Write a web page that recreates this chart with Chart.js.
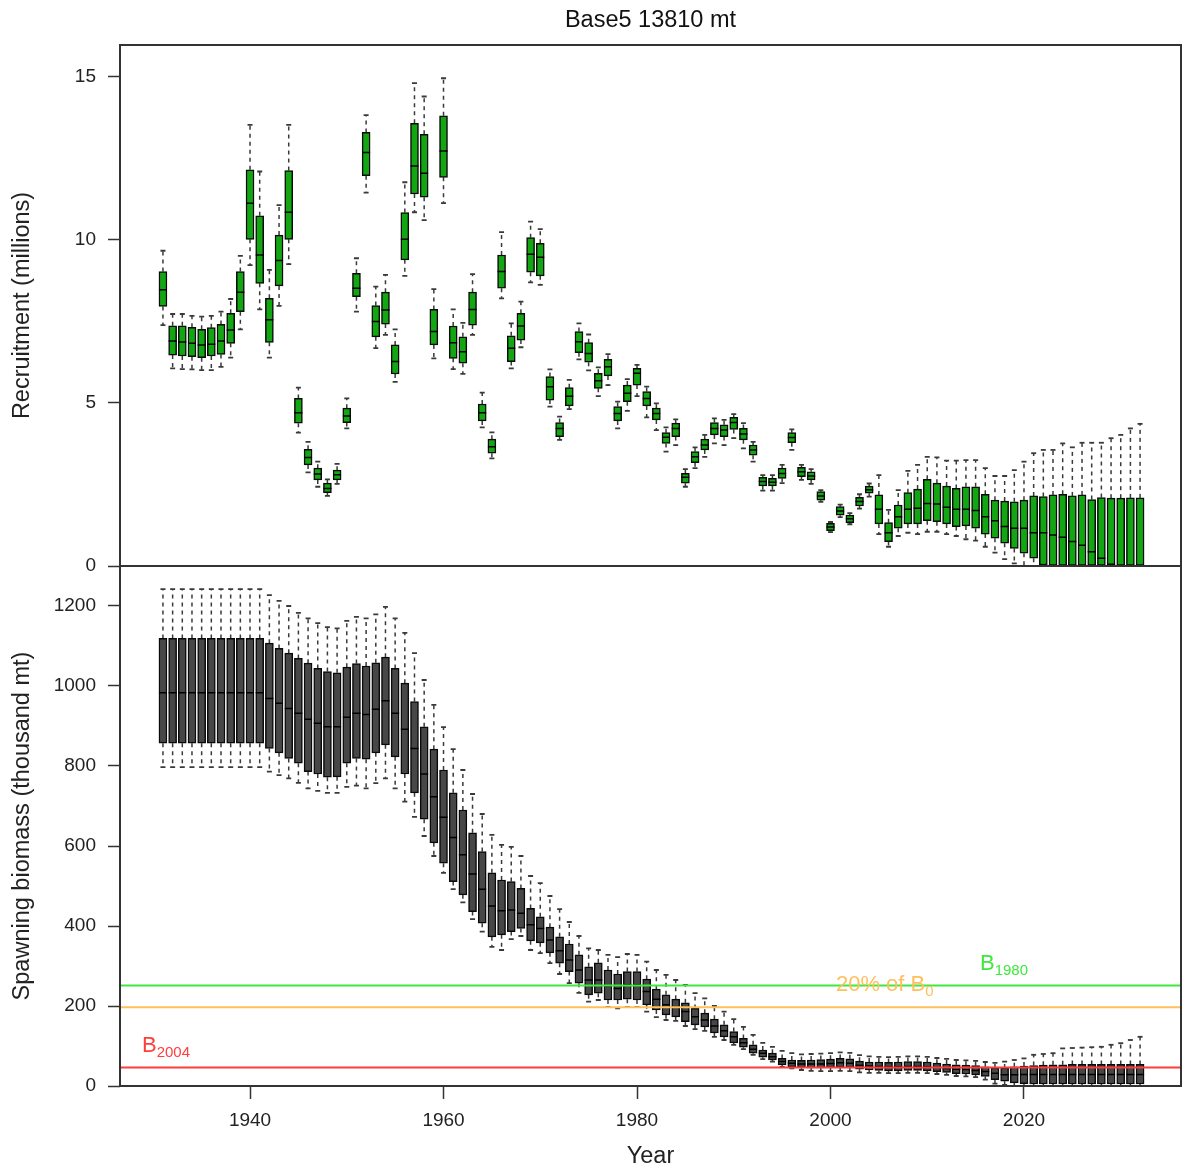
<!DOCTYPE html>
<html>
<head>
<meta charset="utf-8">
<script src="https://cdn.jsdelivr.net/npm/chart.js@4.4.1/dist/chart.umd.min.js"></script>
<style>
    html, body { margin: 0; padding: 0; background: #fff; }
    #wrap { position: relative; width: 1184px; height: 1171px; overflow: hidden; }
    canvas { position: absolute; left: 0; }
    #top { top: 0; }
    #bottom { top: 560px; }
</style>
</head>
<body>
<div id="wrap">
    <canvas id="top" width="1184" height="584"></canvas>
    <canvas id="bottom" width="1184" height="611"></canvas>
</div>
<script>
// years 1931..2032
const years = Array.from({ length: 102 }, (_, i) => 1931 + i);

// recruitment (millions): whisker low, q1, median, q3, whisker high
const recLo = [7.39, 6.06, 6.04, 6.03, 6.01, 6.01, 6.11, 6.39, 7.26, 9.23, 7.87, 6.39, 7.98, 9.26, 4.09, 2.87, 2.43, 2.15, 2.52, 4.22,
    7.80, 11.45, 6.68, 7.09, 5.65, 8.90, 10.85, 10.61, 6.37, 11.13, 6.04, 5.89, 7.09, 4.25, 3.30, 8.21, 6.06, 6.71, 8.70, 8.62,
    4.89, 3.87, 4.81, 6.34, 6.00, 5.21, 5.55, 4.22, 4.76, 5.21, 4.56, 4.17, 3.51, 3.71, 2.43, 3.00, 3.35, 3.76, 3.71, 3.92,
    3.61, 3.20, 2.31, 2.31, 2.54, 3.56, 2.64, 2.52, 1.97, 1.04, 1.50, 1.28, 1.76, 2.13, 0.98, 0.59, 0.92, 1.02, 0.98, 1.05,
    1.05, 0.98, 0.92, 0.82, 0.78, 0.59, 0.41, 0.21, 0.08, 0, 0, 0, 0, 0, 0, 0, 0, 0, 0, 0, 0, 0];
const recQ1 = [7.96, 6.47, 6.44, 6.42, 6.39, 6.44, 6.49, 6.83, 7.80, 10.02, 8.67, 6.86, 8.59, 10.02, 4.38, 3.10, 2.64, 2.25, 2.64, 4.40,
    8.26, 11.97, 7.03, 7.42, 5.89, 9.39, 11.41, 11.31, 6.78, 11.92, 6.37, 6.22, 7.39, 4.45, 3.46, 8.52, 6.27, 6.93, 9.01, 8.90,
    5.09, 3.97, 4.91, 6.54, 6.25, 5.45, 5.83, 4.45, 5.04, 5.55, 4.91, 4.48, 3.76, 3.97, 2.54, 3.17, 3.56, 4.02, 3.97, 4.19,
    3.87, 3.40, 2.46, 2.46, 2.69, 3.78, 2.74, 2.64, 2.02, 1.08, 1.56, 1.33, 1.84, 2.23, 1.29, 0.75, 1.16, 1.29, 1.29, 1.39,
    1.36, 1.29, 1.21, 1.23, 1.16, 0.98, 0.85, 0.70, 0.54, 0.39, 0.24, 0.03, 0, 0, 0, 0, 0, 0, 0, 0, 0, 0];
const recMed = [8.47, 6.90, 6.87, 6.83, 6.78, 6.80, 6.90, 7.24, 8.40, 11.13, 9.54, 7.55, 9.37, 10.85, 4.70, 3.33, 2.82, 2.38, 2.80, 4.60,
    8.52, 12.68, 7.50, 7.85, 6.27, 10.02, 12.27, 12.05, 7.19, 12.73, 6.85, 6.57, 7.87, 4.70, 3.66, 9.03, 6.68, 7.36, 9.56, 9.47,
    5.50, 4.22, 5.21, 6.88, 6.52, 5.68, 6.11, 4.68, 5.30, 5.91, 5.14, 4.68, 3.95, 4.22, 2.72, 3.35, 3.71, 4.22, 4.17, 4.40,
    4.05, 3.56, 2.59, 2.57, 2.84, 3.94, 2.89, 2.76, 2.15, 1.20, 1.69, 1.45, 1.98, 2.34, 1.74, 1.02, 1.51, 1.74, 1.77, 1.92,
    1.90, 1.80, 1.74, 1.74, 1.70, 1.51, 1.39, 1.21, 1.16, 1.16, 1.02, 1.02, 0.95, 0.88, 0.75, 0.64, 0.44, 0.24, 0.05, 0, 0, 0];
const recQ3 = [9.03, 7.37, 7.37, 7.32, 7.26, 7.31, 7.41, 7.75, 9.03, 12.15, 10.74, 8.21, 10.15, 12.13, 5.14, 3.58, 3.00, 2.54, 2.94, 4.84,
    8.98, 13.30, 7.99, 8.40, 6.78, 10.84, 13.58, 13.24, 7.87, 13.81, 7.36, 7.03, 8.40, 4.97, 3.89, 9.54, 7.06, 7.75, 10.07, 9.90,
    5.81, 4.40, 5.47, 7.19, 6.85, 5.91, 6.34, 4.89, 5.55, 6.06, 5.35, 4.84, 4.09, 4.38, 2.84, 3.51, 3.89, 4.40, 4.33, 4.56,
    4.22, 3.71, 2.72, 2.69, 3.00, 4.09, 3.03, 2.89, 2.28, 1.31, 1.82, 1.56, 2.11, 2.45, 2.18, 1.33, 1.87, 2.25, 2.36, 2.66,
    2.54, 2.45, 2.38, 2.43, 2.43, 2.20, 2.02, 1.99, 1.97, 2.02, 2.15, 2.13, 2.18, 2.20, 2.15, 2.18, 2.04, 2.10, 2.08, 2.08, 2.09, 2.09];
const recHi = [9.67, 7.73, 7.73, 7.67, 7.65, 7.67, 7.80, 8.19, 9.51, 13.53, 12.10, 9.08, 11.07, 13.53, 5.47, 3.81, 3.20, 2.66, 3.13, 5.14,
    9.44, 13.83, 8.57, 8.93, 7.26, 11.77, 14.81, 14.40, 8.49, 14.96, 7.87, 7.46, 8.95, 5.32, 4.10, 10.24, 7.44, 8.11, 10.56, 10.33,
    6.03, 4.58, 5.71, 7.44, 7.10, 6.09, 6.50, 5.04, 5.73, 6.17, 5.50, 4.99, 4.25, 4.50, 2.97, 3.64, 4.02, 4.53, 4.48, 4.66,
    4.38, 3.81, 2.79, 2.79, 3.10, 4.19, 3.10, 2.97, 2.33, 1.35, 1.88, 1.62, 2.20, 2.53, 2.79, 1.72, 2.33, 2.92, 3.10, 3.35,
    3.33, 3.23, 3.23, 3.25, 3.25, 3.00, 2.76, 2.76, 2.94, 3.20, 3.46, 3.56, 3.56, 3.76, 3.64, 3.78, 3.78, 3.78, 3.92, 4.02, 4.22, 4.36];

// spawning biomass (thousand mt): whisker low, q1, median, q3, whisker high
const ssbLo = [797, 797, 797, 797, 797, 797, 797, 797, 797, 797, 797, 786, 777, 769, 758, 744, 738, 733, 733, 748,
    751, 744, 757, 769, 744, 711, 673, 625, 575, 533, 492, 459, 417, 386, 348, 340, 367, 375, 340, 332,
    307, 280, 257, 233, 211, 215, 198, 194, 198, 198, 186, 172, 165, 163, 150, 142, 138, 123, 115, 103,
    92, 78, 67, 61, 48, 44, 40, 38, 37, 37, 38, 37, 34, 33, 33, 32, 32, 33, 33, 32,
    30, 28, 25, 24, 22, 16, 6, 3, 0, 0, 0, 0, 0, 0, 0, 0, 0, 0, 0, 0, 0, 0];
const ssbQ1 = [857, 857, 857, 857, 857, 857, 857, 857, 857, 857, 857, 844, 833, 819, 807, 786, 780, 772, 773, 807,
    819, 817, 833, 853, 823, 780, 733, 667, 608, 557, 511, 478, 436, 407, 373, 378, 386, 394, 363, 358,
    333, 307, 286, 257, 228, 232, 215, 215, 217, 215, 203, 190, 178, 173, 161, 153, 148, 133, 123, 108,
    97, 82, 72, 65, 53, 48, 46, 45, 45, 46, 47, 46, 42, 40, 39, 38, 38, 39, 39, 38,
    36, 34, 31, 30, 28, 24, 16, 12, 8, 6, 5, 5, 5, 5, 5, 5, 5, 5, 5, 5, 5, 5];
const ssbMed = [983, 983, 983, 983, 983, 983, 983, 983, 983, 983, 983, 969, 957, 944, 932, 917, 907, 898, 898, 922,
    932, 929, 942, 963, 932, 892, 844, 780, 723, 672, 621, 578, 530, 492, 450, 438, 440, 432, 403, 394,
    365, 338, 315, 290, 265, 265, 250, 244, 253, 253, 236, 217, 203, 197, 186, 173, 165, 150, 138, 123,
    108, 92, 82, 73, 61, 57, 55, 55, 55, 56, 58, 57, 52, 50, 49, 48, 48, 49, 49, 48,
    46, 44, 42, 41, 39, 36, 32, 28, 28, 29, 29, 29, 29, 29, 29, 29, 29, 29, 29, 29, 29, 29];
const ssbQ3 = [1119, 1119, 1119, 1119, 1119, 1119, 1119, 1119, 1119, 1119, 1119, 1107, 1094, 1082, 1069, 1057, 1044, 1036, 1033, 1047,
    1056, 1050, 1058, 1072, 1044, 1007, 961, 898, 842, 790, 733, 690, 633, 586, 533, 515, 511, 494, 444, 423,
    397, 373, 355, 328, 298, 308, 290, 280, 286, 286, 267, 242, 228, 217, 208, 194, 182, 167, 153, 136,
    119, 103, 90, 82, 69, 65, 64, 65, 66, 67, 69, 68, 62, 60, 60, 59, 60, 61, 61, 60,
    57, 55, 53, 52, 51, 48, 45, 45, 48, 50, 51, 52, 53, 53, 54, 54, 54, 54, 54, 54, 54, 54];
const ssbHi = [1242, 1242, 1242, 1242, 1242, 1242, 1242, 1242, 1242, 1242, 1242, 1227, 1213, 1200, 1183, 1169, 1157, 1147, 1144, 1163,
    1173, 1169, 1179, 1198, 1169, 1133, 1082, 1015, 953, 897, 842, 790, 730, 680, 628, 603, 598, 575, 525, 507,
    475, 442, 410, 375, 344, 340, 328, 322, 330, 328, 311, 290, 278, 265, 253, 232, 219, 200, 186, 167,
    148, 128, 108, 98, 88, 82, 79, 80, 81, 82, 84, 83, 77, 74, 73, 72, 73, 74, 74, 73,
    70, 68, 65, 64, 63, 60, 58, 61, 65, 69, 78, 80, 82, 94, 95, 96, 97, 98, 103, 107, 115, 123];

// reference levels on the biomass panel
const refValues = [251, 197, 46];
const refNames = [['B', '1980'], ['20% of B', '0'], ['B', '2004']];
const recTicks = [0, 5, 10, 15];
const ssbTicks = [0, 200, 400, 600, 800, 1000, 1200];
const yearTicks = [1940, 1960, 1980, 2000, 2020];

const FONT = "'Liberation Sans', Arial, sans-serif";
const X_MIN = 1926.56;
const X_MAX = 2036.23;
const BOX_W = 8;

Chart.defaults.font.family = FONT;
Chart.defaults.color = '#222';

const makeBoxPlugin = (lo, q1, med, q3, hi) => ({
    id: 'boxWhiskers',
    beforeDatasetsDraw(chart) {
        const { ctx, chartArea: a, scales: { x, y } } = chart;
        ctx.save();
        ctx.beginPath();
        ctx.rect(a.left, a.top, a.right - a.left, a.bottom - a.top);
        ctx.clip();
        ctx.strokeStyle = '#3a3a3a';
        ctx.lineWidth = 1.5;
        years.forEach((yr, i) => {
            const px = x.getPixelForValue(yr);
            ctx.setLineDash([4, 4]);
            ctx.beginPath();
            ctx.moveTo(px, y.getPixelForValue(q3[i]));
            ctx.lineTo(px, y.getPixelForValue(hi[i]));
            if (q1[i] > lo[i]) {
                ctx.moveTo(px, y.getPixelForValue(q1[i]));
                ctx.lineTo(px, y.getPixelForValue(lo[i]));
            }
            ctx.stroke();
            ctx.setLineDash([]);
            ctx.lineWidth = 1.8;
            ctx.beginPath();
            [hi[i], lo[i]].forEach(v => {
                if (v <= y.min) return;
                const py = y.getPixelForValue(v);
                ctx.moveTo(px - 2.5, py);
                ctx.lineTo(px + 2.5, py);
            });
            ctx.stroke();
            ctx.lineWidth = 1.5;
        });
        ctx.restore();
    },
    afterDatasetsDraw(chart) {
        const { ctx, chartArea: a, scales: { x, y } } = chart;
        ctx.save();
        ctx.beginPath();
        ctx.rect(a.left, a.top, a.right - a.left, a.bottom - a.top);
        ctx.clip();
        ctx.strokeStyle = '#000';
        ctx.lineWidth = 1.5;
        ctx.beginPath();
        years.forEach((yr, i) => {
            if (med[i] <= y.min) return;
            const px = x.getPixelForValue(yr);
            const py = y.getPixelForValue(med[i]);
            ctx.moveTo(px - BOX_W / 2, py);
            ctx.lineTo(px + BOX_W / 2, py);
        });
        ctx.stroke();
        ctx.restore();
    },
});

const frame = {
    id: 'frame',
    afterDraw(chart) {
        const { ctx, chartArea: a } = chart;
        ctx.save();
        ctx.strokeStyle = '#333';
        ctx.lineWidth = 2;
        ctx.strokeRect(a.left, a.top, a.right - a.left, a.bottom - a.top);
        ctx.restore();
    },
};

const refLines = {
    id: 'refLines',
    afterDatasetsDraw(chart) {
        const { ctx, chartArea: a, scales: { x, y } } = chart;
        const colors = ['#3ee83e', '#ffbf5e', '#ff3d3d'];
        const labelYears = [2015.45, 2000.56, 1928.83];
        ctx.save();
        refValues.forEach((v, i) => {
            const py = y.getPixelForValue(v);
            ctx.strokeStyle = colors[i];
            ctx.lineWidth = 2;
            ctx.beginPath();
            ctx.moveTo(a.left, py);
            ctx.lineTo(a.right, py);
            ctx.stroke();
        });
        refValues.forEach((v, i) => {
            const py = y.getPixelForValue(v) - 16;
            const px = x.getPixelForValue(labelYears[i]);
            ctx.fillStyle = colors[i];
            ctx.textBaseline = 'alphabetic';
            ctx.textAlign = 'left';
            ctx.font = `22px ${FONT}`;
            ctx.fillText(refNames[i][0], px, py);
            const w = ctx.measureText(refNames[i][0]).width;
            ctx.font = `15px ${FONT}`;
            ctx.fillText(refNames[i][1], px + w, py + 5);
        });
        ctx.restore();
    },
};

// fixed axis box: no extra room for half-height end labels
const yAxis = (min, max, ticks, title) => ({
    type: 'linear',
    min,
    max,
    afterFit: s => { s.width = 120; s.paddingTop = 0; s.paddingBottom = 0; },
    afterBuildTicks: s => { s.ticks = ticks.map(value => ({ value })); },
    grid: { drawOnChartArea: false, tickLength: 12, color: '#333', tickWidth: 1.5 },
    border: { display: false },
    ticks: { padding: 12, font: { size: 19 }, color: '#222', callback: v => String(v) },
    title: { display: true, text: title, font: { size: 23.5 }, color: '#222', padding: { top: 8, bottom: 0 } },
});

const boxes = (q1, q3, fill) => ({
    data: years.map((yr, i) => ({ x: yr, y: [q1[i], q3[i]] })),
    backgroundColor: fill,
    borderColor: '#0a0a0a',
    borderWidth: 1.5,
    borderSkipped: false,
    barThickness: BOX_W,
});

new Chart(document.getElementById('top'), {
    type: 'bar',
    data: { datasets: [boxes(recQ1, recQ3, '#12a612')] },
    options: {
        responsive: false,
        animation: false,
        layout: { padding: { left: 0, right: 3, top: 0, bottom: 18 } },
        plugins: {
            legend: { display: false },
            tooltip: { enabled: false },
            title: {
                display: true,
                text: 'Base5 13810 mt',
                fullSize: false,
                font: { size: 23.5, weight: 'normal' },
                color: '#111',
                padding: { top: 6, bottom: 10.8 },
            },
        },
        scales: {
            x: { type: 'linear', min: X_MIN, max: X_MAX, offset: false, display: false },
            y: yAxis(0, 15.98, recTicks, 'Recruitment (millions)'),
        },
    },
    plugins: [makeBoxPlugin(recLo, recQ1, recMed, recQ3, recHi), frame],
});

new Chart(document.getElementById('bottom'), {
    type: 'bar',
    data: { datasets: [boxes(ssbQ1, ssbQ3, '#474747')] },
    options: {
        responsive: false,
        animation: false,
        layout: { padding: { left: 0, right: 3, top: 6, bottom: 0 } },
        plugins: { legend: { display: false }, tooltip: { enabled: false } },
        scales: {
            x: {
                type: 'linear',
                min: X_MIN,
                max: X_MAX,
                offset: false,
                afterFit: s => { s.height = 85; s.paddingLeft = 0; s.paddingRight = 0; },
                afterBuildTicks: s => { s.ticks = yearTicks.map(value => ({ value })); },
                grid: { drawOnChartArea: false, offset: false, tickLength: 13, color: '#333', tickWidth: 1.5 },
                border: { display: false },
                ticks: { padding: 10.6, font: { size: 19 }, color: '#222', maxRotation: 0, callback: v => String(v) },
                title: { display: true, text: 'Year', font: { size: 23.5 }, color: '#222', padding: { top: 0, bottom: 0 } },
            },
            y: yAxis(0, 1300, ssbTicks, 'Spawning biomass (thousand mt)'),
        },
    },
    plugins: [makeBoxPlugin(ssbLo, ssbQ1, ssbMed, ssbQ3, ssbHi), refLines, frame],
});
</script>
</body>
</html>
